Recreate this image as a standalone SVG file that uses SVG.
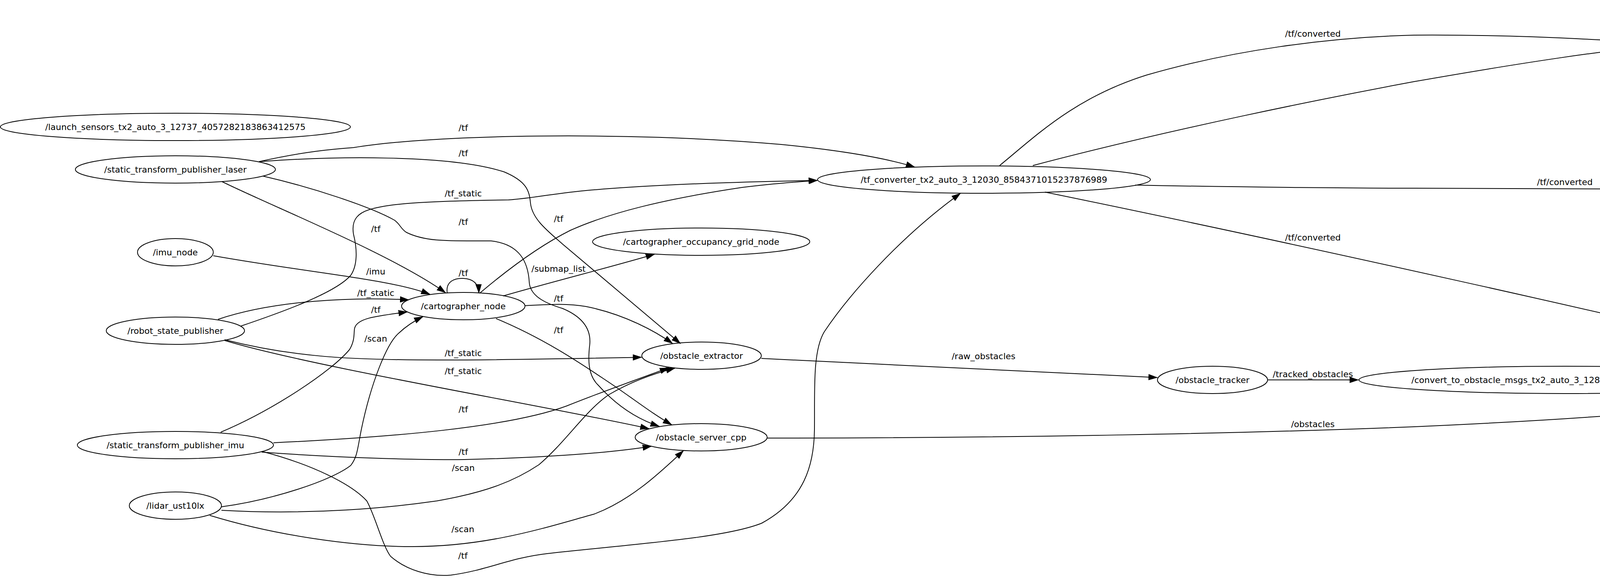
<svg xmlns="http://www.w3.org/2000/svg" width="6737" height="1506" viewBox="0 0 6737 1506">
<defs>
<marker id="arrow" markerUnits="userSpaceOnUse" markerWidth="24" markerHeight="18" viewBox="0 0 24 18" refX="23" refY="9" orient="auto">
<path d="M0,1 L24,9 L0,17 z" fill="#000"/>
</marker>
<style>
.node ellipse{fill:none;stroke:#000;stroke-width:2}
text{font-family:"DejaVu Sans","Liberation Sans",sans-serif;font-size:22px;text-anchor:middle;fill:#000}
#edges path{fill:none;stroke:#000;stroke-width:2;marker-end:url(#arrow)}
</style>
</defs>
<rect x="0" y="0" width="6737" height="1506" fill="#fff"/>
<g id="edges">
<path d="M663,414 C780,388 850,382 905,378 C1100,345 1600,335 2000,370 C2200,390 2290,412 2342,428"/>
<text x="1186" y="335">/tf</text>
<path d="M663,414 C850,400 1150,395 1290,440 C1350,465 1355,490 1358,520 C1362,560 1400,590 1440,625 L1742,880"/>
<text x="1186" y="400">/tf</text>
<path d="M673,451 C800,480 950,530 1010,564 C1025,575 1025,585 1040,595 C1090,620 1150,617 1257,617 C1330,625 1352,670 1355,724 C1358,760 1400,778 1440,790 C1500,815 1512,850 1510,880 C1505,920 1505,960 1530,985 C1570,1030 1620,1070 1688,1092"/>
<text x="1186" y="576">/tf</text>
<path d="M568,465 C700,530 1000,650 1141,750"/>
<text x="962" y="594">/tf</text>
<path d="M546,655 C800,700 1000,715 1101,754"/>
<text x="962" y="703">/imu</text>
<path d="M558,818 C700,770 900,760 1047,768"/>
<text x="962" y="758">/tf_static</text>
<path d="M617,835 C720,800 860,750 898,705 C915,680 915,640 905,600 C898,560 920,545 945,537 C1000,520 1100,515 1302,512 C1360,508 1400,498 1500,488 C1700,470 1950,465 2093,462"/>
<text x="1186" y="503">/tf_static</text>
<path d="M565,1107 C700,1050 850,950 895,895 C910,870 905,850 908,840 C915,815 960,810 1043,799"/>
<text x="962" y="801">/tf</text>
<path d="M567,1298 C700,1280 850,1230 898,1192 C915,1170 915,1150 925,1100 C950,980 990,880 1020,854 C1040,835 1060,822 1083,811"/>
<text x="962" y="875">/scan</text>
<path d="M575,870 C750,915 900,922 1123,922 C1300,922 1500,918 1643,915"/>
<text x="1186" y="912">/tf_static</text>
<path d="M575,872 C800,940 1400,1040 1662,1098"/>
<text x="1186" y="958">/tf_static</text>
<path d="M700,1134 C1000,1120 1300,1095 1450,1040 C1550,1000 1650,965 1712,942"/>
<text x="1186" y="1056">/tf</text>
<path d="M670,1158 C900,1175 1100,1178 1189,1177 C1400,1172 1560,1160 1668,1143"/>
<text x="1186" y="1165">/tf</text>
<path d="M670,1156 C800,1190 900,1240 939,1283 C960,1320 980,1400 1000,1425 C1040,1460 1100,1478 1154,1473 C1250,1460 1300,1430 1400,1418 C1600,1395 1850,1380 1950,1340 C2060,1280 2084,1190 2085,1100 C2086,1000 2080,900 2110,850 C2170,760 2300,610 2459,495"/>
<text x="1185" y="1431">/tf</text>
<path d="M567,1307 C800,1320 1000,1300 1118,1283 C1250,1260 1320,1230 1380,1190 C1450,1130 1500,1050 1560,1010 C1620,975 1680,955 1728,943"/>
<text x="1186" y="1206">/scan</text>
<path d="M537,1320 C700,1370 900,1400 1055,1400 C1250,1400 1400,1350 1520,1317 C1620,1280 1700,1200 1750,1154"/>
<text x="1185" y="1363">/scan</text>
<path d="M1145,751 C1140,720 1165,712 1186,713 C1210,714 1225,725 1226,751"/>
<text x="1186" y="707">/tf</text>
<path d="M1228,751 C1300,690 1380,630 1460,590 C1560,545 1700,510 1900,480 C1980,470 2040,466 2093,462"/>
<text x="1430" y="568">/tf</text>
<path d="M1288,758 C1420,720 1560,685 1676,651"/>
<text x="1430" y="696">/submap_list</text>
<path d="M1343,783 C1400,780 1450,776 1500,785 C1600,805 1680,850 1722,880"/>
<text x="1430" y="772">/tf</text>
<path d="M1270,816 C1400,870 1500,940 1560,980 C1620,1020 1670,1060 1720,1088"/>
<text x="1430" y="853">/tf</text>
<path d="M1949,918 C2300,935 2700,955 2963,967"/>
<text x="2518" y="920">/raw_obstacles</text>
<path d="M1964,1122 C2600,1122 3200,1110 3620,1093 C4100,1072 4500,1040 4763,992"/>
<text x="3361" y="1094">/obstacles</text>
<path d="M3245,973 L3478,973"/>
<text x="3361" y="966">/tracked_obstacles</text>
<path d="M4535,973 L4746,973"/>
<text x="4617" y="966">/tracked_car</text>
<path d="M4121,938 C4500,820 4900,690 5197,594"/>
<text x="4856" y="650">/tracked_car</text>
<path d="M2559,424 C2650,350 2750,250 2936,192 C3150,130 3400,95 3620,90 C3900,88 4200,105 4400,125 C4550,145 4650,170 4741,196"/>
<text x="3361" y="94">/tf/converted</text>
<path d="M2644,424 C3000,330 3400,250 3620,209 C3900,160 4100,130 4300,110 C4600,88 4900,83 5000,83 C5300,83 5600,83 5674,83 C5800,85 5850,110 5900,180 C5960,270 5990,400 5995,538"/>
<text x="4856" y="78">/tf/converted</text>
<path d="M2906,474 C3200,480 3500,482 3620,482 L4980,487 C5080,490 5150,520 5200,552"/>
<text x="4006" y="474">/tf/converted</text>
<path d="M2675,492 C3300,620 4200,820 4758,957"/>
<text x="3361" y="616">/tf/converted</text>
<path d="M4960,194 C5100,160 5250,150 5414,146 C5600,150 5800,210 5870,290 C5950,380 5985,480 5990,539"/>
<text x="5427" y="140">/trajectory</text>
<path d="M4997,231 L5536,280"/>
<text x="5266" y="242">/trajectory</text>
<path d="M4908,252 C4950,280 5000,300 5050,345 C5120,410 5190,480 5227,542"/>
<text x="5095" y="334">/trajectory</text>
<path d="M4878,539 C4920,480 4960,420 4980,404 C5020,375 5060,365 5100,355 C5250,320 5400,305 5534,300"/>
<text x="5266" y="306">/trajectory</text>
<path d="M4980,573 L5182,573"/>
<text x="5095" y="567">/trajectory</text>
<path d="M4951,598 C5050,620 5100,650 5150,700 C5220,770 5280,850 5380,890 C5500,920 5700,890 5800,850 C5900,800 5960,700 5986,607"/>
<text x="5427" y="881">/trajectory</text>
<path d="M5238,539 C5235,510 5255,503 5270,504 C5288,505 5295,520 5294,540"/>
<text x="5269" y="495">/trajectory</text>
<path d="M5292,539 C5320,480 5350,430 5380,405 C5430,380 5500,350 5580,320"/>
<text x="5427" y="352">/trajectory</text>
<path d="M5354,573 L5924,573"/>
<text x="5659" y="567">/eStop_follower</text>
<path d="M5314,604 C5370,630 5430,650 5510,668"/>
<text x="5427" y="624">/trajviz2</text>
<path d="M5290,608 C5330,660 5400,710 5520,773"/>
<text x="5427" y="692">/trajviz</text>
<path d="M5279,608 C5300,700 5330,780 5400,815 C5470,840 5500,850 5545,900 C5600,970 5625,1040 5639,1082"/>
<text x="5427" y="784">/eStop</text>
<path d="M5310,541 C5360,510 5420,495 5464,491 C5600,480 5750,462 5811,465 C5950,470 6050,510 6158,543 C6250,575 6300,610 6331,647 C6400,710 6440,780 6460,840 C6490,920 6505,970 6513,1005"/>
<text x="5872" y="458">/eStop</text>
<path d="M5938,553 C5880,540 5850,537 5800,535 C5600,525 5450,530 5340,554"/>
<text x="5659" y="516">/command</text>
<path d="M6065,546 L6463,352"/>
<text x="6214" y="424">/smooth_trajectory</text>
<path d="M6047,608 L6496,1006"/>
<text x="6214" y="668">/command</text>
<path d="M4947,952 C5020,935 5100,915 5153,894 C5200,870 5223,830 5235,790 C5250,720 5258,660 5262,608"/>
<text x="5095" y="882">/obstacles_tf</text>
<path d="M4966,973 C5200,975 5400,972 5500,968 C5700,955 5800,940 5850,905 C5920,850 5960,730 5998,608"/>
<text x="5427" y="959">/eStop</text>
<path d="M4951,995 C5200,1030 5450,1080 5596,1101"/>
<text x="5266" y="1026">/eStop</text>
<path d="M4886,1006 C4920,1050 4960,1090 5000,1120 C5080,1190 5180,1233 5300,1233 L5984,1233 C6100,1233 6200,1190 6300,1150 C6380,1115 6440,1090 6487,1068"/>
<text x="5659" y="1226">/eStop</text>
<path d="M5622,1085 C5610,1055 5635,1045 5661,1045 C5685,1045 5700,1060 5696,1083"/>
<text x="5661" y="1037">/eStop</text>
<path d="M5720,1096 C5800,1060 5860,1040 5895,1000 C5940,950 5960,900 5975,830 C5995,740 6005,680 6008,608"/>
<text x="5871" y="993">/eStop</text>
<path d="M5730,1120 C5900,1125 6100,1120 6250,1100 C6350,1085 6400,1070 6452,1056"/>
<text x="6008" y="1106">/eStop</text>
<path d="M6442,1046 C6200,1060 5900,1080 5726,1102"/>
<text x="6008" y="1061">/drive_pwm</text>
</g>
<g id="n_launch" class="node"><ellipse cx="449" cy="325" rx="448" ry="35"/><text x="449" y="333">/launch_sensors_tx2_auto_3_12737_4057282183863412575</text></g>
<g id="n_stp_laser" class="node"><ellipse cx="449" cy="434" rx="256" ry="35"/><text x="449" y="442">/static_transform_publisher_laser</text></g>
<g id="n_imu_node" class="node"><ellipse cx="449" cy="646" rx="97" ry="35"/><text x="449" y="654">/imu_node</text></g>
<g id="n_robot_state_publisher" class="node"><ellipse cx="449" cy="847" rx="177" ry="35"/><text x="449" y="855">/robot_state_publisher</text></g>
<g id="n_stp_imu" class="node"><ellipse cx="449" cy="1140" rx="251" ry="35"/><text x="449" y="1148">/static_transform_publisher_imu</text></g>
<g id="n_lidar" class="node"><ellipse cx="449" cy="1295" rx="118" ry="35"/><text x="449" y="1303">/lidar_ust10lx</text></g>
<g id="n_cartographer" class="node"><ellipse cx="1186" cy="784" rx="158" ry="35"/><text x="1186" y="792">/cartographer_node</text></g>
<g id="n_occupancy" class="node"><ellipse cx="1795" cy="619" rx="278" ry="35"/><text x="1795" y="627">/cartographer_occupancy_grid_node</text></g>
<g id="n_extractor" class="node"><ellipse cx="1796" cy="911" rx="153" ry="35"/><text x="1796" y="919">/obstacle_extractor</text></g>
<g id="n_server" class="node"><ellipse cx="1795" cy="1120" rx="169" ry="35"/><text x="1795" y="1128">/obstacle_server_cpp</text></g>
<g id="n_tf_converter" class="node"><ellipse cx="2519" cy="460" rx="426" ry="35"/><text x="2519" y="468">/tf_converter_tx2_auto_3_12030_8584371015237876989</text></g>
<g id="n_tracker" class="node"><ellipse cx="3104" cy="973" rx="141" ry="35"/><text x="3104" y="981">/obstacle_tracker</text></g>
<g id="n_convert" class="node"><ellipse cx="4007" cy="973" rx="528" ry="35"/><text x="4007" y="981">/convert_to_obstacle_msgs_tx2_auto_3_12852_2223011975517662495</text></g>
<g id="n_obstacles_tf" class="node"><ellipse cx="4856" cy="973" rx="110" ry="35"/><text x="4856" y="981">/obstacles_tf</text></g>
<g id="n_trajectory_planner" class="node"><ellipse cx="4855" cy="220" rx="154" ry="35"/><text x="4855" y="228">/trajectory_planner</text></g>
<g id="n_speed_profiler" class="node"><ellipse cx="4855" cy="573" rx="125" ry="35"/><text x="4855" y="581">/speed_profiler</text></g>
<g id="n_path_publisher" class="node"><ellipse cx="5660" cy="293" rx="130" ry="35"/><text x="5660" y="301">/path_publisher</text></g>
<g id="n_overtake" class="node"><ellipse cx="5268" cy="573" rx="86" ry="35"/><text x="5268" y="581">/overtake</text></g>
<g id="n_follower" class="node"><ellipse cx="6009" cy="573" rx="85" ry="35"/><text x="6009" y="581">/follower</text></g>
<g id="n_pathviz2" class="node"><ellipse cx="5660" cy="682" rx="160" ry="35"/><text x="5660" y="690">/pathviz2_publisher</text></g>
<g id="n_pathviz" class="node"><ellipse cx="5660" cy="789" rx="151" ry="35"/><text x="5660" y="797">/pathviz_publisher</text></g>
<g id="n_teensy" class="node"><ellipse cx="5660" cy="1115" rx="70" ry="35"/><text x="5660" y="1123">/teensy</text></g>
<g id="n_followed_path" class="node"><ellipse cx="6534" cy="319" rx="200" ry="35"/><text x="6534" y="327">/followed_path_publisher</text></g>
<g id="n_drive_api" class="node"><ellipse cx="6534" cy="1039" rx="92" ry="35"/><text x="6534" y="1047">/drive_api</text></g>
</svg>
